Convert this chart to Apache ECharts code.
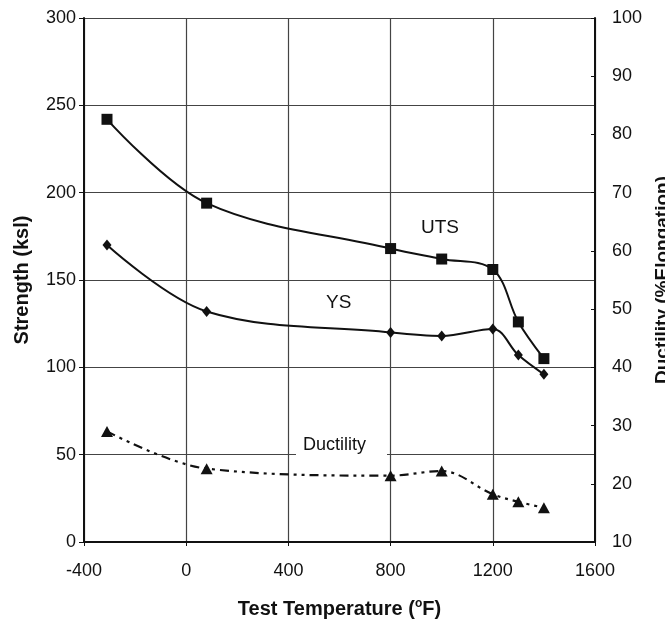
<!DOCTYPE html>
<html>
<head>
<meta charset="utf-8">
<script src="https://cdn.jsdelivr.net/npm/echarts@6/dist/echarts.min.js"></script>
<style>html,body{margin:0;padding:0;background:#fff}#c{width:665px;height:620px}</style>
</head>
<body>
<div id="c"></div>
<script>
const temps = [-310, 80, 800, 1000, 1200, 1300, 1400];
const utsValues = [242, 194, 168, 162, 156, 126, 105];
const ysValues = [170, 132, 120, 118, 122, 107, 96];
const ductilityValues = [29, 22.6, 21.4, 22.2, 18.2, 16.9, 15.9];
const xTicks = [-400, 0, 400, 800, 1200, 1600];
const leftTicks = [0, 50, 100, 150, 200, 250, 300];
const rightTicks = [10, 20, 30, 40, 50, 60, 70, 80, 90, 100];

const pairs = (xs, ys) => xs.map((x, i) => [x, ys[i]]);
const font = '"Liberation Sans", Arial, sans-serif';
const chart = echarts.init(document.getElementById('c'));
const gridColor = '#444';
const plain = v => String(v);

chart.setOption({
  animation: false,
  backgroundColor: '#fff',
  textStyle: { fontFamily: font },
  grid: { left: 84, top: 18, width: 511, height: 524, containLabel: false, outerBoundsMode: 'none' },
  xAxis: {
    type: 'value', min: xTicks[0], max: xTicks[xTicks.length - 1], interval: 400,
    name: '{n|Test Temperature (}{s|o}{n|F)}',
    nameLocation: 'middle', nameGap: 56,
    nameTextStyle: {
      rich: {
        n: { fontFamily: font, fontSize: 20, fontWeight: 'bold', color: '#111' },
        s: { fontFamily: font, fontSize: 12, fontWeight: 'bold', color: '#111', verticalAlign: 'top', padding: [0, 0, 11, 0] }
      }
    },
    axisLine: { show: true, onZero: false, lineStyle: { color: '#111', width: 2 } },
    axisTick: { show: true, inside: false, length: 4, lineStyle: { color: '#111' } },
    axisLabel: { fontSize: 18, color: '#111', margin: 20, fontFamily: font, formatter: plain },
    splitLine: { show: true, lineStyle: { color: gridColor, width: 1.2 } }
  },
  yAxis: [
    {
      type: 'value', min: leftTicks[0], max: leftTicks[leftTicks.length - 1], interval: 50,
      position: 'left',
      name: 'Strength (ksl)', nameLocation: 'middle', nameGap: 52, nameRotate: 90,
      nameTextStyle: { fontFamily: font, fontSize: 20, fontWeight: 'bold', color: '#111' },
      axisLine: { show: true, onZero: false, lineStyle: { color: '#111', width: 2 } },
      axisTick: { show: true, inside: false, length: 5, lineStyle: { color: '#111' } },
      axisLabel: { fontSize: 18, color: '#111', margin: 8, fontFamily: font, formatter: plain },
      splitLine: { show: true, lineStyle: { color: gridColor, width: 1.2 } }
    },
    {
      type: 'value', min: rightTicks[0], max: rightTicks[rightTicks.length - 1], interval: 10,
      position: 'right',
      name: 'Ductility (%Elongation)', nameLocation: 'middle', nameGap: 56, nameRotate: 90,
      nameTextStyle: { fontFamily: font, fontSize: 19, fontWeight: 'bold', color: '#111' },
      axisLine: { show: true, onZero: false, lineStyle: { color: '#111', width: 2 } },
      axisTick: { show: true, inside: true, length: 4, lineStyle: { color: '#111' } },
      axisLabel: { fontSize: 18, color: '#111', margin: 17, fontFamily: font, formatter: plain },
      splitLine: { show: false }
    }
  ],
  series: [
    {
      name: 'UTS', type: 'line', yAxisIndex: 0, smooth: 0.35,
      data: pairs(temps, utsValues),
      symbol: 'rect', symbolSize: 11, showAllSymbol: true,
      lineStyle: { color: '#111', width: 2 },
      itemStyle: { color: '#111' }
    },
    {
      name: 'YS', type: 'line', yAxisIndex: 0, smooth: 0.35,
      data: pairs(temps, ysValues),
      symbol: 'diamond', symbolSize: [9, 11], showAllSymbol: true,
      lineStyle: { color: '#111', width: 2 },
      itemStyle: { color: '#111' }
    },
    {
      name: 'Ductility', type: 'line', yAxisIndex: 1, smooth: 0.35,
      data: pairs(temps, ductilityValues),
      symbol: 'triangle', symbolSize: [12, 11], showAllSymbol: true,
      lineStyle: { color: '#111', width: 2.2, type: [9, 5, 3, 5, 3, 5] },
      itemStyle: { color: '#111' }
    }
  ],
  graphic: [
    { type: 'text', left: 421, top: 218, style: { text: 'UTS', font: '19px ' + font, fill: '#111' } },
    { type: 'text', left: 326, top: 293, style: { text: 'YS', font: '19px ' + font, fill: '#111' } },
    { type: 'rect', left: 296, top: 452, shape: { width: 91, height: 8 }, style: { fill: '#fff' }, z: 50 },
    { type: 'text', left: 303, top: 436, z: 51, style: { text: 'Ductility', font: '18px ' + font, fill: '#111' } }
  ]
});
</script>
</body>
</html>
